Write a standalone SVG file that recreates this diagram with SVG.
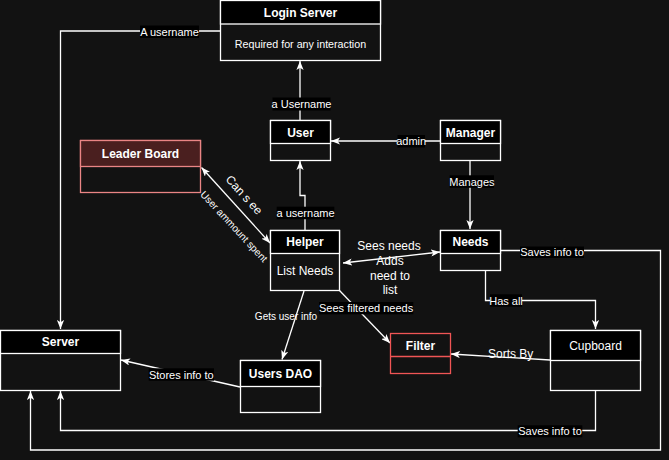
<svg xmlns="http://www.w3.org/2000/svg" width="669" height="460" viewBox="0 0 669 460">
<style>
  .box { fill: #121212; stroke: #ffffff; stroke-width: 1.3; }
  .hdr { fill: #000000; stroke: #ffffff; stroke-width: 1.3; }
  .ttl { font-family: "Liberation Sans", Arial, sans-serif; font-size: 12px; font-weight: bold; fill: #ffffff; text-anchor: middle; }
  .txt { font-family: "Liberation Sans", Arial, sans-serif; font-size: 12px; fill: #ffffff; text-anchor: middle; }
  .lbl { font-family: "Liberation Sans", Arial, sans-serif; font-size: 11px; fill: #ffffff; text-anchor: middle; }
  .sm { font-family: "Liberation Sans", Arial, sans-serif; font-size: 10px; fill: #ffffff; text-anchor: middle; }
  .lblbg { fill: #000000; }
  .edge { fill: none; stroke: #ffffff; stroke-width: 1.3; }
</style>
<defs>
  <marker id="arr" viewBox="0 0 10 8" refX="10" refY="4" markerWidth="9" markerHeight="7.2" markerUnits="userSpaceOnUse" orient="auto-start-reverse">
    <path d="M0,0 L10,4 L0,8 L2.5,4 z" fill="#ffffff"/>
  </marker>
</defs>
<rect x="0" y="0" width="669" height="460" fill="#121212"/>

<g id="connectors">
  <path class="edge" d="M300,120 V61" marker-end="url(#arr)"/>
  <path class="edge" d="M440,141 H331" marker-end="url(#arr)"/>
  <path class="edge" d="M470,160 V229" marker-end="url(#arr)"/>
  <path class="edge" d="M305,230 V195.5 H300 V161" marker-end="url(#arr)"/>
  <path class="edge" d="M343,263 L440,252" marker-start="url(#arr)" marker-end="url(#arr)"/>
  <path class="edge" d="M201.5,167.5 L270,243" marker-start="url(#arr)" marker-end="url(#arr)"/>
  <path class="edge" d="M304,291 L282,359.5" marker-end="url(#arr)"/>
  <path class="edge" d="M339,290 L390,343" marker-end="url(#arr)"/>
  <path class="edge" d="M240,387 L121,360" marker-end="url(#arr)"/>
  <path class="edge" d="M550,360 L451,354" marker-end="url(#arr)"/>
  <path class="edge" d="M485.5,270 V300.5 H595.5 V329" marker-end="url(#arr)"/>
  <path class="edge" d="M500,250.5 H660.5 V450 H30.5 V391" marker-end="url(#arr)"/>
  <path class="edge" d="M595.5,390 V430.5 H60.5 V391" marker-end="url(#arr)"/>
  <path class="edge" d="M220,31 H60.5 V329" marker-end="url(#arr)"/>

  <rect class="lblbg" x="272.5" y="97.5" width="58" height="13"/>
  <text class="lbl" x="301.5" y="108">a Username</text>
  <rect class="lblbg" x="140" y="25.5" width="59" height="12.5"/>
  <text class="lbl" x="169.5" y="36">A username</text>
  <rect class="lblbg" x="397.5" y="135" width="27.5" height="12.5"/>
  <text class="lbl" x="411.2" y="145.3">admin</text>
  <rect class="lblbg" x="449.7" y="175.3" width="44.3" height="12.5"/>
  <text class="lbl" x="471.9" y="185.6">Manages</text>
  <rect class="lblbg" x="276.7" y="206.7" width="57.6" height="12.5"/>
  <text class="lbl" x="305.5" y="216.9">a username</text>
  <rect class="lblbg" x="520" y="246.5" width="64" height="11.5"/>
  <text class="lbl" x="552" y="256">Saves info to</text>
  <rect class="lblbg" x="490" y="294.3" width="32" height="12.4"/>
  <text class="lbl" x="506" y="304.5">Has all</text>
  <rect class="lblbg" x="517.7" y="425.3" width="64.6" height="12"/>
  <text class="lbl" x="550" y="435.3">Saves info to</text>
  <rect class="lblbg" x="148.7" y="368.3" width="65.3" height="12.4"/>
  <text class="lbl" x="181.3" y="378.5">Stores info to</text>
  <rect class="lblbg" x="319" y="302" width="94.3" height="12.3"/>
  <text class="lbl" x="366.1" y="312.1">Sees filtered needs</text>

  <text class="txt" x="389" y="250">Sees needs</text>
  <text class="txt" x="390" y="265.3">Adds</text>
  <text class="txt" x="390" y="279.5">need to</text>
  <text class="txt" x="390" y="293.6">list</text>
  <text class="txt" x="510.7" y="357.6">Sorts By</text>
  <text class="sm" x="286" y="320.3">Gets user info</text>
  <text class="txt" transform="translate(244,195) rotate(48)" x="0" y="4">Can s ee</text>
  <text class="sm" transform="translate(234,226.5) rotate(47)" x="0" y="3.5">User ammount spent</text>
</g>

<g id="login-server">
  <rect class="box" x="220.5" y="0.5" width="160" height="60"/>
  <rect class="hdr" x="220.5" y="0.5" width="160" height="23.5"/>
  <text class="ttl" x="300.5" y="16.5">Login Server</text>
  <text class="lbl" style="font-size:10.7px" x="300.5" y="48">Required for any interaction</text>
</g>

<g id="user">
  <rect class="box" x="270.5" y="120.5" width="60" height="40"/>
  <rect class="hdr" x="270.5" y="120.5" width="60" height="23"/>
  <text class="ttl" x="300.5" y="137">User</text>
</g>

<g id="manager">
  <rect class="box" x="440.5" y="120.5" width="60" height="40"/>
  <rect class="hdr" x="440.5" y="120.5" width="60" height="23"/>
  <text class="ttl" x="470.5" y="137">Manager</text>
</g>

<g id="leader-board">
  <rect x="80.5" y="140.5" width="120" height="52" fill="#121212" stroke="#ea8585" stroke-width="1.3"/>
  <rect x="80.5" y="140.5" width="120" height="26" fill="#4a1f1f" stroke="#ea8585" stroke-width="1.3"/>
  <text class="ttl" x="140.5" y="157.6">Leader Board</text>
</g>

<g id="helper">
  <rect class="box" x="270.5" y="230.5" width="69" height="60"/>
  <rect class="hdr" x="270.5" y="230.5" width="69" height="23"/>
  <text class="ttl" x="305" y="246">Helper</text>
  <text class="txt" x="305" y="275">List Needs</text>
</g>

<g id="needs">
  <rect class="box" x="440.5" y="230.5" width="60" height="40"/>
  <rect class="hdr" x="440.5" y="230.5" width="60" height="23"/>
  <text class="ttl" x="470.5" y="246">Needs</text>
</g>

<g id="server">
  <rect class="box" x="0.5" y="330.5" width="120" height="60"/>
  <rect class="hdr" x="0.5" y="330.5" width="120" height="23"/>
  <text class="ttl" x="60.5" y="346">Server</text>
</g>

<g id="users-dao">
  <rect class="box" x="240.5" y="360.5" width="80" height="52"/>
  <rect class="hdr" x="240.5" y="360.5" width="80" height="26"/>
  <text class="ttl" x="280.5" y="378">Users DAO</text>
</g>

<g id="filter">
  <rect x="390.5" y="333.5" width="60" height="40" fill="#121212" stroke="#f05555" stroke-width="1.3"/>
  <line x1="390.5" y1="356.5" x2="450.5" y2="356.5" stroke="#f05555" stroke-width="1.3"/>
  <text class="ttl" x="420.5" y="350">Filter</text>
</g>

<g id="cupboard">
  <rect class="box" x="550.5" y="330.5" width="90" height="60"/>
  <rect class="hdr" x="550.5" y="330.5" width="90" height="30"/>
  <text class="txt" x="595.5" y="350">Cupboard</text>
</g>
</svg>
